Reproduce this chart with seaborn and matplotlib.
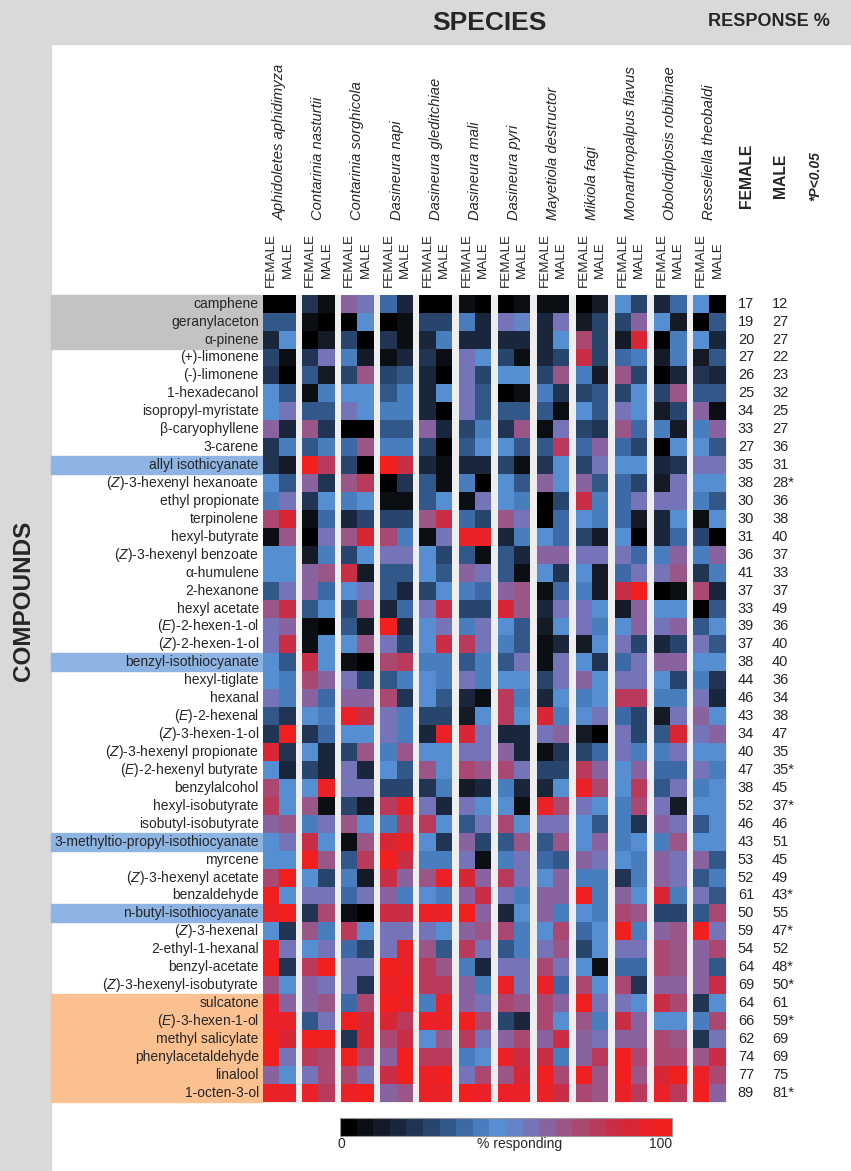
import matplotlib
matplotlib.use('Agg')
import matplotlib.pyplot as plt
from matplotlib.colors import LinearSegmentedColormap
from matplotlib.patches import Rectangle
from matplotlib import transforms
import pandas as pd
import seaborn as sns

# --- data ---------------------------------------------------------------------
compounds = ["camphene", "geranylaceton", "α-pinene", "(+)-limonene", "(-)-limonene",
             "1-hexadecanol", "isopropyl-myristate", "β-caryophyllene", "3-carene",
             "allyl isothicyanate", r"($\mathit{Z}$)-3-hexenyl hexanoate", "ethyl propionate",
             "terpinolene", "hexyl-butyrate", r"($\mathit{Z}$)-3-hexenyl benzoate", "α-humulene",
             "2-hexanone", "hexyl acetate", r"($\mathit{E}$)-2-hexen-1-ol", r"($\mathit{Z}$)-2-hexen-1-ol",
             "benzyl-isothiocyanate", "hexyl-tiglate", "hexanal", r"($\mathit{E}$)-2-hexenal",
             r"($\mathit{Z}$)-3-hexen-1-ol", r"($\mathit{Z}$)-3-hexenyl propionate",
             r"($\mathit{E}$)-2-hexenyl butyrate", "benzylalcohol", "hexyl-isobutyrate",
             "isobutyl-isobutyrate", "3-methyltio-propyl-isothiocyanate", "myrcene",
             r"($\mathit{Z}$)-3-hexenyl acetate", "benzaldehyde", "n-butyl-isothiocyanate",
             r"($\mathit{Z}$)-3-hexenal", "2-ethyl-1-hexanal", "benzyl-acetate",
             r"($\mathit{Z}$)-3-hexenyl-isobutyrate", "sulcatone", r"($\mathit{E}$)-3-hexen-1-ol",
             "methyl salicylate", "phenylacetaldehyde", "linalool", "1-octen-3-ol"]

species = ["Aphidoletes aphidimyza", "Contarinia nasturtii", "Contarinia sorghicola",
           "Dasineura napi", "Dasineura gleditchiae", "Dasineura mali", "Dasineura pyri",
           "Mayetiola destructor", "Mikiola fagi", "Monarthropalpus flavus",
           "Obolodiplosis robibinae", "Resseliella theobaldi"]

# % responding per compound, female / male, one pair of lists per species
aphidoletes_f = [0, 30, 18, 28, 20, 45, 45, 60, 20, 20, 45, 40, 72, 8, 45, 45, 30, 66, 55, 56,
                 46, 46, 58, 32, 20, 88, 46, 70, 75, 60, 45, 47, 72, 95, 92, 47, 92, 95, 65, 92,
                 92, 95, 95, 64, 90]
aphidoletes_m = [0, 30, 48, 8, 0, 32, 55, 15, 40, 10, 30, 57, 85, 65, 45, 45, 56, 82, 63, 82,
                 30, 42, 42, 20, 98, 20, 15, 47, 47, 65, 56, 47, 96, 46, 96, 20, 57, 22, 45, 60,
                 92, 85, 57, 47, 90]
nasturtii_f = [20, 8, 0, 20, 30, 8, 30, 66, 30, 98, 60, 20, 8, 0, 10, 62, 64, 32, 8, 8,
               82, 70, 60, 47, 20, 47, 28, 46, 65, 40, 80, 95, 47, 56, 20, 65, 47, 78, 60, 60,
               30, 96, 76, 56, 94]
nasturtii_m = [8, 0, 10, 57, 10, 40, 32, 20, 42, 75, 20, 48, 38, 58, 40, 65, 38, 46, 0, 47,
               47, 60, 38, 42, 38, 18, 18, 92, 8, 58, 47, 65, 25, 58, 73, 40, 57, 95, 57, 65,
               57, 96, 72, 70, 78]
sorghicola_f = [62, 0, 25, 40, 25, 48, 58, 0, 38, 25, 68, 42, 15, 67, 25, 80, 47, 25, 32, 47,
                8, 57, 60, 92, 48, 25, 58, 58, 28, 66, 8, 32, 40, 35, 8, 75, 38, 57, 57, 38,
                95, 22, 95, 72, 94]
sorghicola_m = [58, 48, 0, 10, 68, 48, 48, 0, 67, 0, 78, 48, 25, 88, 48, 10, 57, 65, 10, 65,
                0, 25, 60, 80, 48, 66, 15, 58, 12, 47, 66, 75, 10, 57, 0, 47, 25, 57, 22, 72,
                88, 88, 72, 57, 95]
napi_f = [38, 0, 20, 8, 25, 33, 42, 33, 43, 98, 0, 8, 25, 70, 58, 32, 30, 15, 98, 57,
          72, 30, 70, 56, 56, 42, 46, 28, 75, 42, 85, 95, 82, 64, 82, 58, 57, 95, 90, 95,
          85, 72, 64, 82, 62]
napi_m = [18, 6, 6, 15, 33, 42, 42, 33, 43, 82, 20, 8, 25, 40, 56, 32, 18, 38, 18, 28,
          76, 44, 22, 44, 42, 68, 32, 28, 94, 75, 92, 82, 62, 42, 82, 58, 92, 92, 95, 92,
          75, 80, 95, 95, 66]
gleditchiae_f = [0, 25, 15, 22, 15, 15, 15, 60, 25, 18, 32, 33, 68, 8, 48, 48, 28, 58, 48, 48,
                 42, 47, 46, 25, 15, 48, 65, 22, 58, 78, 47, 42, 68, 47, 90, 57, 66, 78, 78, 40,
                 90, 47, 75, 90, 90]
gleditchiae_m = [0, 25, 40, 6, 0, 48, 0, 15, 0, 8, 8, 48, 80, 58, 25, 32, 48, 80, 56, 82,
                 42, 40, 32, 25, 92, 48, 47, 42, 18, 47, 22, 42, 94, 42, 92, 47, 33, 66, 78, 92,
                 90, 65, 75, 95, 90]
mali_f = [8, 40, 15, 56, 56, 56, 56, 28, 30, 18, 42, 8, 35, 92, 30, 60, 42, 28, 42, 78,
          30, 55, 15, 10, 85, 56, 70, 10, 56, 30, 60, 56, 85, 62, 95, 63, 78, 40, 60, 62,
          95, 78, 40, 56, 95]
mali_m = [0, 18, 15, 45, 28, 30, 30, 40, 48, 18, 0, 55, 28, 92, 8, 56, 38, 28, 55, 58,
          40, 40, 8, 47, 58, 56, 66, 18, 47, 56, 28, 8, 62, 80, 62, 65, 58, 18, 40, 57,
          70, 56, 47, 72, 93]
pyri_f = [0, 56, 18, 25, 48, 0, 32, 20, 47, 28, 46, 45, 67, 18, 33, 33, 62, 85, 46, 40,
          30, 47, 78, 75, 18, 60, 72, 42, 47, 73, 30, 40, 75, 58, 18, 72, 30, 57, 94, 72,
          28, 64, 90, 65, 94]
pyri_m = [8, 50, 18, 8, 45, 8, 32, 66, 30, 8, 30, 42, 58, 42, 18, 8, 65, 65, 32, 30,
          58, 47, 42, 47, 18, 15, 56, 15, 5, 47, 65, 57, 57, 42, 47, 40, 40, 57, 57, 66,
          18, 72, 82, 88, 94]
destructor_f = [8, 18, 18, 18, 28, 40, 32, 8, 30, 20, 60, 0, 0, 46, 60, 46, 8, 18, 10, 8,
                8, 28, 15, 88, 57, 8, 28, 18, 94, 57, 30, 38, 46, 60, 60, 47, 57, 72, 92, 72,
                72, 64, 82, 95, 94]
destructor_m = [8, 58, 48, 25, 65, 20, 8, 55, 75, 48, 45, 28, 38, 35, 63, 20, 35, 56, 46, 18,
                56, 56, 48, 42, 60, 20, 25, 47, 72, 56, 65, 32, 64, 62, 42, 70, 68, 56, 35, 64,
                47, 82, 42, 72, 82]
fagi_f = [0, 12, 70, 82, 40, 25, 48, 28, 38, 28, 62, 80, 48, 28, 57, 47, 40, 56, 56, 12,
          47, 62, 40, 47, 10, 25, 75, 92, 56, 47, 47, 63, 40, 96, 47, 38, 25, 47, 72, 95,
          68, 60, 60, 96, 72]
fagi_m = [12, 28, 28, 28, 10, 32, 32, 22, 60, 56, 30, 40, 42, 10, 57, 10, 12, 47, 42, 47,
          20, 47, 46, 57, 0, 35, 62, 70, 48, 32, 60, 58, 40, 42, 42, 47, 47, 5, 47, 57,
          40, 56, 75, 68, 66]
flavus_f = [48, 25, 10, 38, 65, 25, 57, 65, 38, 48, 38, 38, 38, 48, 57, 38, 82, 10, 46, 57,
            38, 58, 78, 38, 57, 57, 47, 47, 40, 40, 40, 47, 22, 64, 72, 95, 57, 38, 72, 57,
            82, 63, 95, 95, 92]
flavus_m = [28, 60, 85, 40, 25, 48, 48, 38, 25, 45, 25, 55, 10, 0, 38, 57, 95, 60, 60, 25,
            57, 58, 76, 25, 25, 40, 63, 75, 72, 20, 47, 40, 40, 47, 65, 40, 57, 38, 22, 47,
            60, 63, 72, 68, 75]
robibinae_f = [15, 47, 0, 12, 0, 28, 10, 40, 0, 18, 12, 57, 18, 18, 40, 56, 0, 46, 57, 15,
               60, 48, 44, 12, 30, 42, 38, 30, 56, 60, 40, 62, 62, 85, 28, 60, 72, 72, 60, 82,
               46, 72, 72, 85, 90]
robibinae_m = [35, 12, 42, 42, 18, 65, 28, 10, 45, 22, 55, 55, 47, 35, 60, 68, 6, 46, 60, 28,
               60, 28, 42, 56, 88, 56, 38, 56, 12, 56, 66, 56, 55, 42, 28, 66, 68, 68, 60, 72,
               47, 65, 72, 96, 75]
theobaldi_f = [45, 0, 45, 10, 20, 32, 60, 40, 46, 56, 48, 44, 8, 25, 40, 20, 72, 0, 33, 56,
               47, 42, 57, 60, 58, 47, 56, 42, 47, 32, 47, 63, 32, 58, 30, 95, 64, 64, 64, 20,
               44, 20, 65, 90, 95]
theobaldi_m = [0, 30, 18, 30, 15, 32, 8, 60, 32, 56, 48, 32, 48, 0, 60, 40, 18, 32, 46, 33,
               48, 20, 18, 48, 62, 45, 42, 46, 47, 47, 47, 32, 40, 30, 72, 57, 72, 30, 82, 47,
               72, 57, 82, 72, 62]

# overall response % and significance (males)
female_resp = [17, 19, 20, 27, 26, 25, 34, 33, 27, 35, 38, 30, 30, 31, 36, 41, 37, 33, 39, 37,
               38, 44, 46, 43, 34, 40, 47, 38, 52, 46, 43, 53, 52, 61, 50, 59, 54, 64, 69, 64,
               66, 62, 74, 77, 89]
male_resp = [12, 27, 27, 22, 23, 32, 25, 27, 36, 31, 28, 36, 38, 40, 37, 33, 37, 49, 36, 40,
             40, 36, 34, 38, 47, 35, 35, 45, 37, 46, 51, 45, 49, 43, 55, 47, 52, 48, 50, 61,
             59, 69, 69, 75, 81]
male_signif = [11, 27, 29, 34, 36, 38, 39, 41, 45]   # 1-based rows with *

grey_rows = [1, 2, 3]
blue_rows = [10, 21, 31, 35]
orange_rows = [40, 41, 42, 43, 44, 45]

pairs = [(aphidoletes_f, aphidoletes_m), (nasturtii_f, nasturtii_m),
         (sorghicola_f, sorghicola_m), (napi_f, napi_m),
         (gleditchiae_f, gleditchiae_m), (mali_f, mali_m), (pyri_f, pyri_m),
         (destructor_f, destructor_m), (fagi_f, fagi_m), (flavus_f, flavus_m),
         (robibinae_f, robibinae_m), (theobaldi_f, theobaldi_m)]

# --- style ------------------------------------------------------------------
sns.set_theme(style='white')
plt.rcParams['font.family'] = ['Liberation Sans', 'DejaVu Sans']
plt.rcParams['mathtext.fontset'] = 'custom'
plt.rcParams['mathtext.rm'] = 'Liberation Sans'
plt.rcParams['mathtext.it'] = 'Liberation Sans:italic'
plt.rcParams['mathtext.bf'] = 'Liberation Sans:bold'

cmap = LinearSegmentedColormap.from_list('resp', [
    (0.00, '#000000'), (0.08, '#11161d'), (0.18, '#1c2b45'), (0.28, '#2b4a75'),
    (0.38, '#3f6eae'), (0.47, '#5590d2'), (0.56, '#6f7cc2'), (0.61, '#8068a8'),
    (0.67, '#975a8e'), (0.73, '#a84a74'), (0.81, '#c03452'), (0.89, '#d82636'),
    (0.96, '#ee2024'), (1.00, '#f21f1f')], N=20)

W, H = 851, 1171
fig = plt.figure(figsize=(W / 100, H / 100), dpi=100)
fig.patch.set_facecolor('white')


def box(x0, y0, x1, y1):
    # pixel box (top-left origin) -> figure rectangle
    return [x0 / W, 1 - y1 / H, (x1 - x0) / W, (y1 - y0) / H]


# grey frame bands
band = '#d9d9d9'
fig.add_artist(Rectangle((0, 1 - 44 / H), 1, 44 / H, transform=fig.transFigure,
                         color=band, zorder=-2))
fig.add_artist(Rectangle((0, 0), 51 / W, 1, transform=fig.transFigure,
                         color=band, zorder=-2))

top, bottom = 294.7, 1101.7
left, step, gw = 263, 39.1, 32.5

# light grey behind the gaps
fig.add_artist(Rectangle((left / W, 1 - bottom / H), (left + 11 * step + gw - left) / W,
                         (bottom - top) / H, transform=fig.transFigure,
                         color='#eeeeee', zorder=-1))

cax = fig.add_axes(box(340, 1118, 672, 1136))

axes = []
for k, (name, (fv, mv)) in enumerate(zip(species, pairs)):
    x0 = left + k * step
    ax = fig.add_axes(box(x0, top, x0 + gw, bottom))
    df = pd.DataFrame({'FEMALE': fv, 'MALE': mv}, index=compounds)
    sns.heatmap(df, ax=ax, cmap=cmap, vmin=0, vmax=100,
                cbar=(k == 0), cbar_ax=cax if k == 0 else None,
                cbar_kws={'orientation': 'horizontal', 'ticks': []},
                xticklabels=False, yticklabels=(compounds if k == 0 else False))
    ax.set_xlabel('')
    ax.set_ylabel('')
    ax.tick_params(length=0)
    tr = transforms.blended_transform_factory(ax.transData, fig.transFigure)
    ax.text(1.0, 1 - 220 / H, name, transform=tr, rotation=90, ha='center', va='bottom',
            fontsize=10.6, style='italic')
    ax.text(0.5, 1 - 260 / H, 'FEMALE', transform=tr, rotation=90, ha='center',
            va='center', fontsize=9.7)
    ax.text(1.5, 1 - 260 / H, 'MALE', transform=tr, rotation=90, ha='center',
            va='center', fontsize=9.7)
    axes.append(ax)

ax0 = axes[0]
ax0.set_yticklabels(compounds, rotation=0, fontsize=10)
ax0.tick_params(axis='y', pad=3, length=0)

# label highlights
rows_tr = transforms.blended_transform_factory(fig.transFigure, ax0.transData)
for rows, col in [(grey_rows, '#c3c3c3'), (blue_rows, '#8db4e2'), (orange_rows, '#fac090')]:
    for r in rows:
        fig.add_artist(Rectangle((51 / W, r - 1), (262 - 51) / W, 1, transform=rows_tr,
                                 color=col, zorder=-1))

# response % columns
for i, (fr, mr) in enumerate(zip(female_resp, male_resp)):
    ax0.text(746 / W, i + 0.5, str(fr), transform=rows_tr, ha='center', va='center',
             fontsize=10.5)
    star = '*' if (i + 1) in male_signif else ''
    ax0.text(772 / W, i + 0.5, f'{mr}{star}', transform=rows_tr, ha='left', va='center',
             fontsize=10.5)

# colorbar
cbar = ax0.collections[0].colorbar
cbar.outline.set_edgecolor('#999999')
cbar.outline.set_linewidth(0.8)
fig.text(341 / W, 1 - 1144 / H, '0', ha='center', va='center', fontsize=10)
fig.text(672 / W, 1 - 1144 / H, '100', ha='right', va='center', fontsize=10)
fig.text(520 / W, 1 - 1144 / H, '% responding', ha='center', va='center', fontsize=10)

# headings
fig.text(489 / W, 1 - 23 / H, 'SPECIES', ha='center', va='center', fontsize=19,
         weight='bold')
fig.text(769 / W, 1 - 22 / H, 'RESPONSE %', ha='center', va='center', fontsize=13,
         weight='bold')
fig.text(24 / W, 1 - 601 / H, 'COMPOUNDS', ha='center', va='center', fontsize=17.5,
         weight='bold', rotation=90)
fig.text(746.7 / W, 1 - 175.5 / H, 'FEMALE', ha='center', va='center', fontsize=11.3,
         weight='bold', rotation=90)
fig.text(780 / W, 1 - 176 / H, 'MALE', ha='center', va='center', fontsize=11.3,
         weight='bold', rotation=90)
fig.text(815 / W, 1 - 176 / H, '*P<0.05', ha='center', va='center', fontsize=10,
         weight='bold', style='italic', rotation=90)

fig.savefig('out.png', dpi=100)
